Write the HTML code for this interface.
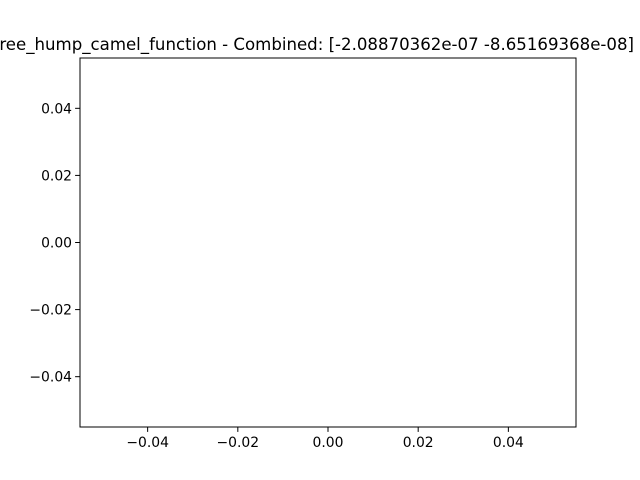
<!DOCTYPE html>
<html><head><meta charset="utf-8"><style>
html,body{margin:0;padding:0;background:#fff;}
svg{display:block;font-family:"DejaVu Sans","Liberation Sans",sans-serif;}
</style></head><body>
<svg id="chart" width="640" height="480" viewBox="0 0 640 480">
<rect width="640" height="480" fill="#fff"/>
<text x="634" y="50" text-anchor="end" font-size="16.6" fill="#000">three_hump_camel_function - Combined: [-2.08870362e-07 -8.65169368e-08]</text>
<g id="ticks"></g>
<rect x="80" y="58" width="496" height="369" fill="none" stroke="#000" stroke-width="1"/>
</svg>
<script>
const xTicks = [-0.04, -0.02, 0.00, 0.02, 0.04];
const yTicks = [-0.04, -0.02, 0.00, 0.02, 0.04];
const seriesX = [];
const seriesY = [];
const xMin = -0.055, xMax = 0.055, yMin = -0.055, yMax = 0.055;
const L = 80, R = 576, T = 58, B = 427;
function xs(v){return L + (v - xMin) / (xMax - xMin) * (R - L);}
function ys(v){return B - (v - yMin) / (yMax - yMin) * (B - T);}
function fmt(v){const s = Math.abs(v).toFixed(2); return (v < 0 ? '\u2212' : '') + s;}
const NS = 'http://www.w3.org/2000/svg';
const g = document.getElementById('ticks');
xTicks.forEach(v => {
  const x = xs(v);
  const l = document.createElementNS(NS, 'line');
  l.setAttribute('x1', x); l.setAttribute('x2', x); l.setAttribute('y1', B); l.setAttribute('y2', B + 4.9);
  l.setAttribute('stroke', '#000');
  
  
  g.appendChild(l);
  const t = document.createElementNS(NS, 'text');
  t.setAttribute('x', x); t.setAttribute('y', B + 20); t.setAttribute('text-anchor', 'middle'); t.setAttribute('font-size', '13.9');
  t.textContent = fmt(v);
  
  
  g.appendChild(t);
});
yTicks.forEach(v => {
  const y = ys(v);
  const l = document.createElementNS(NS, 'line');
  l.setAttribute('x1', L - 4.9); l.setAttribute('x2', L); l.setAttribute('y1', y); l.setAttribute('y2', y);
  l.setAttribute('stroke', '#000');
  
  
  g.appendChild(l);
  const t = document.createElementNS(NS, 'text');
  t.setAttribute('x', L - 8); t.setAttribute('y', y + 5); t.setAttribute('text-anchor', 'end'); t.setAttribute('font-size', '13.9');
  t.textContent = fmt(v);
  
  
  g.appendChild(t);
});
seriesX.forEach((v, i) => {
  const c = document.createElementNS(NS, 'circle');
  c.setAttribute('cx', xs(v)); c.setAttribute('cy', ys(seriesY[i])); c.setAttribute('r', 3); c.setAttribute('fill', '#1f77b4');
  
  
  g.appendChild(c);
});
</script>
</body></html>
